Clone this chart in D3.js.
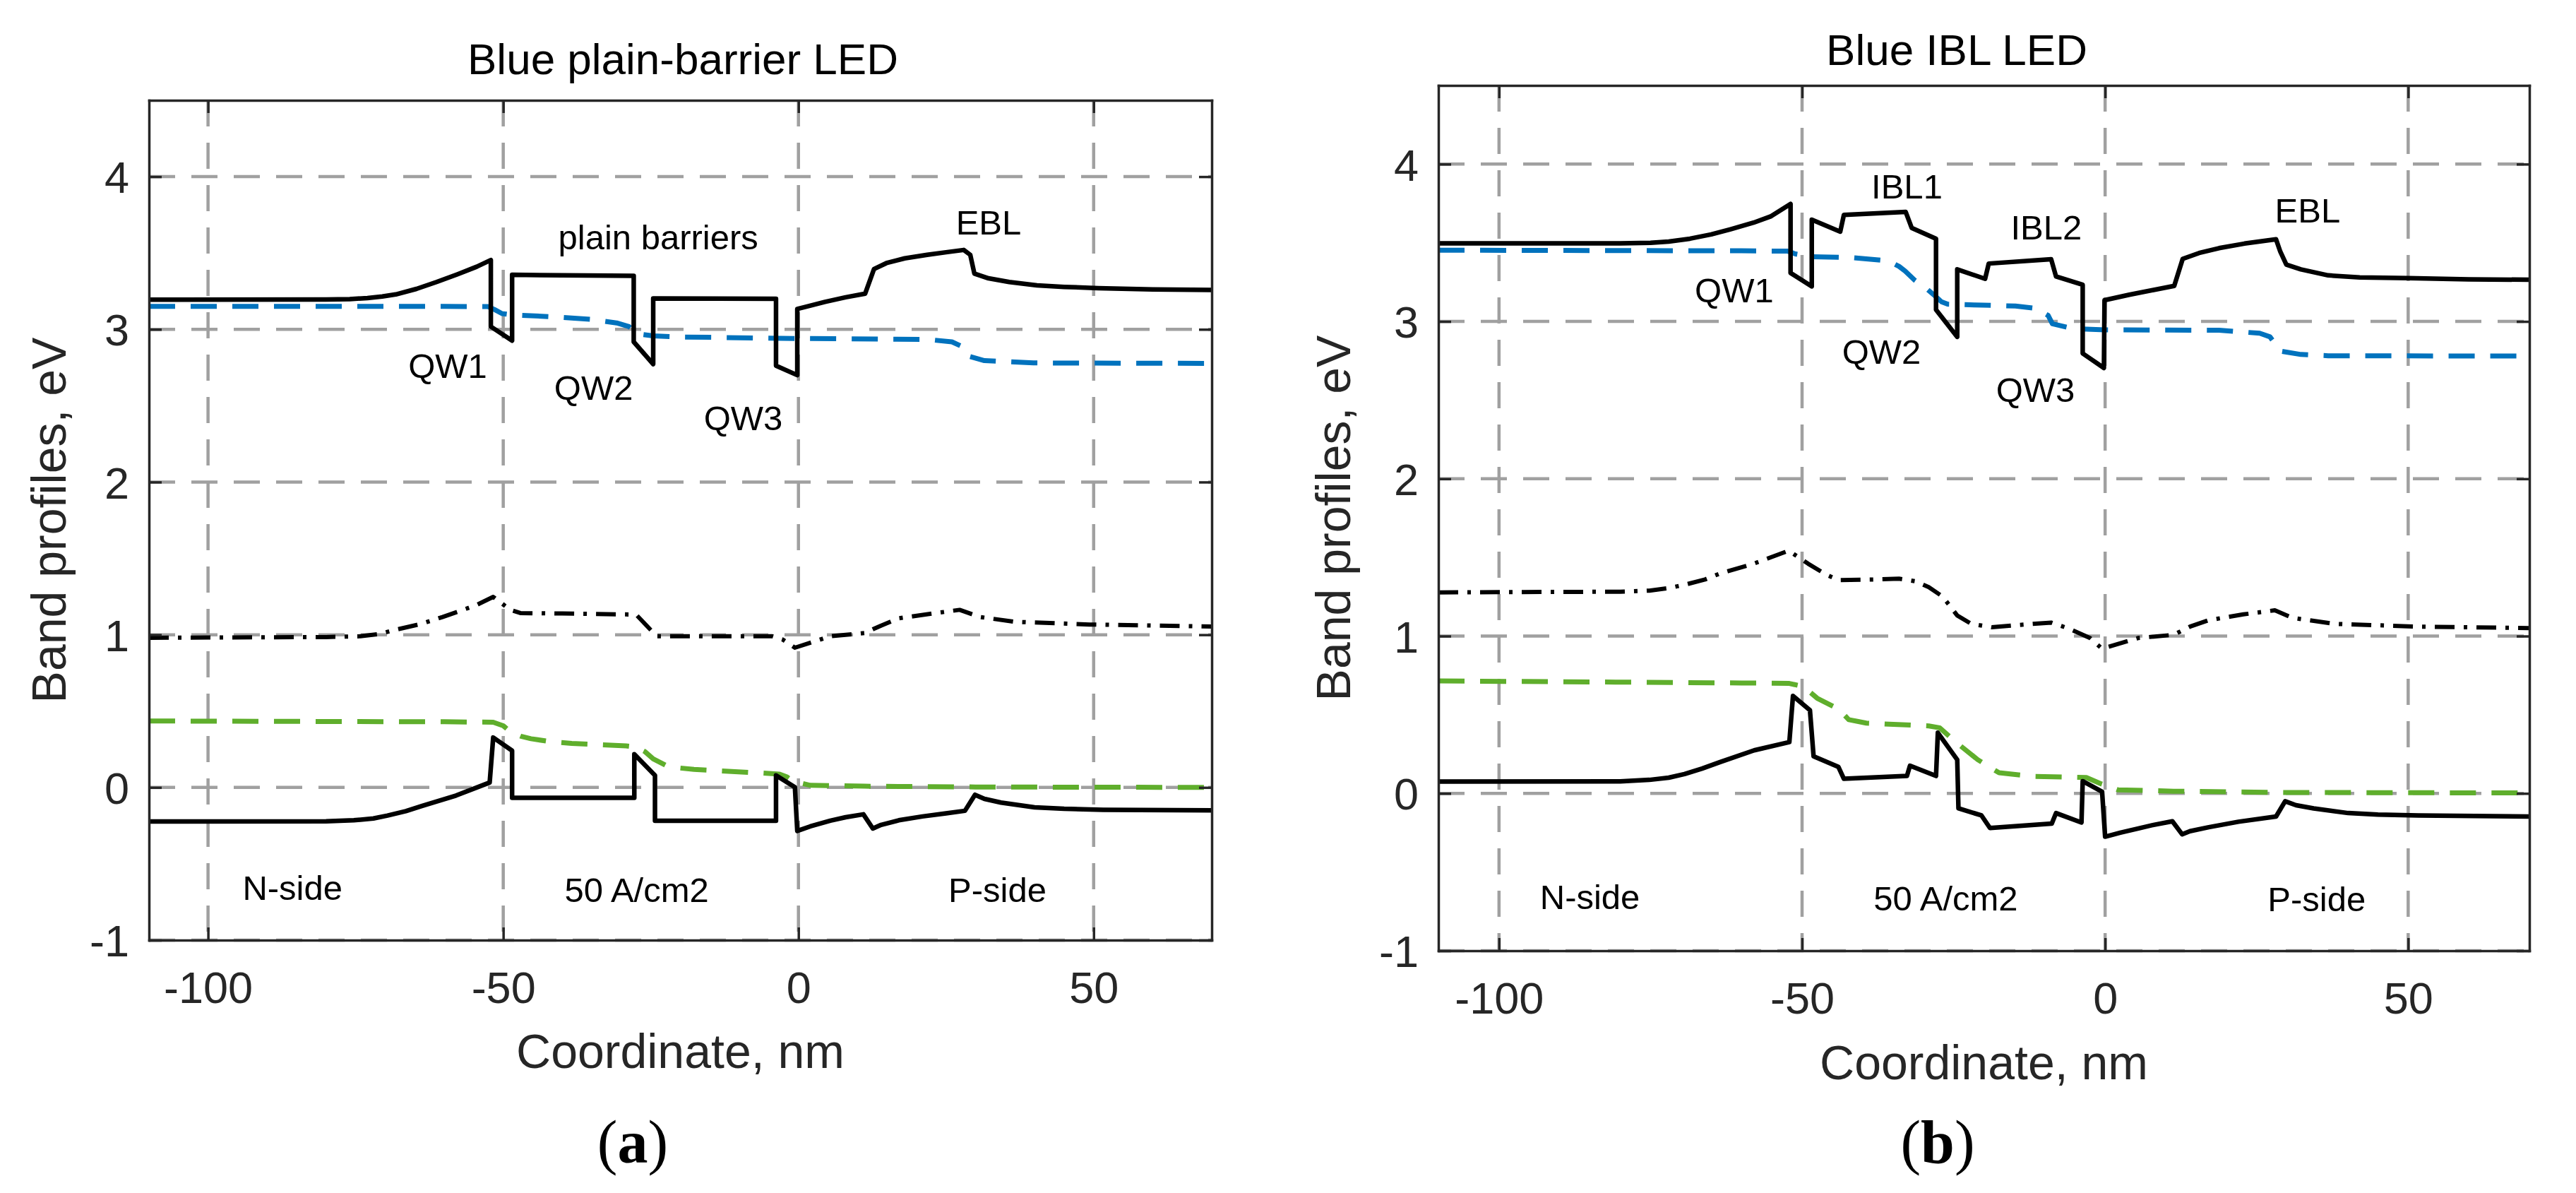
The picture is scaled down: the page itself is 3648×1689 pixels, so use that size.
<!DOCTYPE html>
<html><head><meta charset="utf-8">
<script src="https://cdn.jsdelivr.net/npm/d3@7"></script>
<style>body{margin:0;background:#fff}</style>
</head><body><svg id="c" width="3648" height="1689" xmlns="http://www.w3.org/2000/svg"></svg>
<script>
// ---------------- data ----------------
const xTicks = [-100, -50, 0, 50];
const yTicks = [-1, 0, 1, 2, 3, 4];
const xDomain = [-110, 70];
const yDomain = [-1, 4.5];
const titles = ["Blue plain-barrier LED", "Blue IBL LED"];
const panelTags = ["a", "b"];
const xLabel = "Coordinate, nm";
const yLabel = "Band profiles, eV";

// Panel (a): plain-barrier LED
const aConduction = [[-110,3.194],[-80,3.195],[-76,3.198],[-73,3.205],[-70.5,3.215],[-68.2,3.229],[-64.7,3.265],[-61.3,3.31],[-57.8,3.36],[-54.5,3.41],[-52.1,3.454],
  [-52.1,3.018],[-48.5,2.926],[-48.5,3.357],[-27.9,3.35],[-27.9,2.918],[-24.6,2.772],[-24.6,3.203],[-3.8,3.2],[-3.8,2.762],[-0.2,2.70],[-0.2,3.134],
  [1,3.145],[4.5,3.18],[8,3.21],[11.3,3.234],[12.8,3.395],[14.9,3.434],[18,3.465],[21.8,3.488],[25,3.505],[28,3.52],[29.1,3.488],[29.8,3.365],
  [32.2,3.334],[35.7,3.31],[40.4,3.288],[45,3.278],[50.8,3.27],[60,3.262],[70,3.258]];
const aElectronFermi = [[-110,3.151],[-60,3.15],[-52.6,3.149],[-51.5,3.13],[-50.2,3.103],[-48.5,3.095],[-40.5,3.08],[-35,3.065],[-30.8,3.042],[-28.7,3.018],
  [-27.4,2.972],[-24.6,2.957],[-19.7,2.95],[0,2.94],[21.8,2.934],[26,2.918],[27.7,2.888],[28.7,2.826],[31.5,2.795],[39.8,2.78],[70,2.777]];
const aMidline = [[-110,0.98],[-80,0.985],[-74.2,0.99],[-71,1.005],[-68.4,1.031],[-64,1.07],[-60.3,1.116],[-54.6,1.193],[-51.7,1.248],[-48.8,1.163],[-47.1,1.142],
  [-40,1.139],[-27.5,1.132],[-24,0.99],[-4.4,0.99],[-2.7,0.969],[-0.6,0.915],[5.4,0.99],[11.2,1.011],[14,1.06],[17,1.108],[22.7,1.139],[27.3,1.163],
  [30.8,1.116],[36.6,1.085],[49.3,1.067],[70,1.054]];
const aHoleFermi = [[-110,0.435],[-60,0.43],[-51.7,0.427],[-50,0.404],[-48.8,0.365],[-47,0.335],[-45.3,0.319],[-42,0.3],[-38.4,0.288],[-29.2,0.272],[-27.5,0.265],
  [-26,0.235],[-24.6,0.187],[-22.3,0.141],[-20,0.127],[-17.7,0.118],[-6.1,0.094],[-3.2,0.087],[-2,0.07],[-0.9,0.04],[2,0.014],[11.2,0.008],[30,0.003],[70,0.0]];
const aValence = [[-110,-0.223],[-80,-0.222],[-75.3,-0.215],[-72,-0.203],[-69.6,-0.184],[-66.5,-0.155],[-63.8,-0.122],[-58,-0.053],[-52.3,0.032],
  [-51.7,0.327],[-48.5,0.241],[-48.5,-0.068],[-27.8,-0.068],[-27.8,0.218],[-24.3,0.079],[-24.3,-0.218],[-3.8,-0.218],[-3.8,0.079],[-0.6,0.0015],[-0.2,-0.285],
  [2,-0.255],[5.4,-0.218],[8,-0.195],[11,-0.176],[12.6,-0.269],[14,-0.245],[17,-0.215],[21,-0.19],[25,-0.17],[28.2,-0.153],[29.9,-0.048],[31.5,-0.075],
  [34.3,-0.099],[40,-0.13],[45,-0.14],[51.6,-0.146],[70,-0.15]];
const aLabels = [["plain barriers",-23.75,3.526],["EBL",32.2,3.623],["QW1",-59.4,2.68],["QW2",-34.7,2.537],["QW3",-9.35,2.342],
  ["N-side",-85.7,-0.738],["50 A/cm2",-27.4,-0.75],["P-side",33.7,-0.75]];

// Panel (b): IBL LED
const bConduction = [[-110,3.496],[-80,3.497],[-75,3.50],[-72,3.508],[-68.5,3.526],[-65,3.553],[-61.8,3.586],[-58,3.628],[-55.1,3.669],[-51.9,3.747],
  [-51.9,3.308],[-48.4,3.223],[-48.4,3.647],[-43.7,3.571],[-43.1,3.677],[-32.9,3.696],[-31.9,3.594],[-27.9,3.526],[-27.9,3.075],[-24.4,2.902],[-24.4,3.331],
  [-19.8,3.271],[-19.2,3.368],[-8.9,3.395],[-8.1,3.286],[-3.7,3.233],[-3.7,2.797],[-0.2,2.704],[-0.1,3.135],[4,3.17],[8,3.2],[11.4,3.226],[12.8,3.398],
  [15.5,3.435],[18.8,3.466],[23,3.495],[28.2,3.522],[28.9,3.444],[29.9,3.361],[32.3,3.331],[36.8,3.293],[42,3.28],[50,3.275],[60,3.268],[70,3.265]];
const bElectronFermi = [[-110,3.453],[-60,3.449],[-52.4,3.447],[-51.1,3.429],[-48.4,3.411],[-41.7,3.406],[-37,3.39],[-35,3.37],[-34,3.35],[-33,3.32],
  [-31.5,3.265],[-29.5,3.21],[-28,3.16],[-27,3.125],[-26,3.11],[-21.5,3.105],[-14.8,3.098],[-11.4,3.083],[-9.4,3.038],[-8.7,2.985],[-5.4,2.955],[0,2.947],
  [18.8,2.944],[25.5,2.925],[27.2,2.902],[28.9,2.812],[32.3,2.79],[36.8,2.782],[70,2.78]];
const bMidline = [[-110,1.278],[-80,1.282],[-75.2,1.289],[-72,1.305],[-69.4,1.326],[-66,1.36],[-63.6,1.397],[-58,1.46],[-52.2,1.543],[-49,1.46],[-46,1.39],
  [-44,1.356],[-38,1.36],[-34,1.365],[-31.4,1.349],[-29.1,1.311],[-26.8,1.251],[-24.4,1.131],[-22.1,1.078],[-18.7,1.056],[-14.1,1.071],[-8.9,1.086],[-6,1.048],
  [-2.5,0.988],[-0.5,0.92],[5.5,0.988],[11.3,1.008],[14,1.06],[17.1,1.101],[22.8,1.138],[28,1.164],[30.9,1.116],[37.8,1.078],[51.7,1.06],[70,1.051]];
const bHoleFermi = [[-110,0.715],[-60,0.702],[-52.1,0.699],[-49.8,0.68],[-47.5,0.605],[-44,0.537],[-42.3,0.469],[-39.4,0.447],[-29.1,0.429],[-27.3,0.417],
  [-24.4,0.319],[-21,0.214],[-17.5,0.131],[-11.8,0.108],[-3.1,0.101],[-0.8,0.063],[2.1,0.023],[11.3,0.014],[30,0.006],[70,0.003]];
const bValence = [[-110,0.075],[-80,0.076],[-75.2,0.086],[-72,0.1],[-69.4,0.123],[-66.5,0.158],[-63.6,0.198],[-57.9,0.274],[-52.1,0.326],[-51.5,0.62],
  [-48.7,0.529],[-48.1,0.236],[-44,0.168],[-43.1,0.093],[-32.7,0.111],[-32.2,0.176],[-27.9,0.111],[-27.6,0.386],[-24.4,0.214],[-24.2,-0.095],[-20.4,-0.14],
  [-19,-0.22],[-8.8,-0.192],[-8.1,-0.125],[-3.9,-0.185],[-3.7,0.078],[-0.5,0.011],[0,-0.275],[2.5,-0.25],[5.5,-0.223],[8,-0.2],[11.1,-0.177],[12.7,-0.26],
  [14,-0.24],[17.1,-0.215],[22,-0.18],[28.2,-0.147],[29.7,-0.05],[31.5,-0.075],[34.4,-0.095],[40.1,-0.125],[45,-0.135],[51.7,-0.14],[70,-0.147]];
const bLabels = [["IBL1",-32.7,3.78],["IBL2",-9.7,3.519],["EBL",33.4,3.63],["QW1",-61.2,3.12],["QW2",-36.9,2.729],["QW3",-11.5,2.489],
  ["N-side",-85,-0.733],["50 A/cm2",-26.3,-0.745],["P-side",34.9,-0.75]];

// ---------------- layout & styles ----------------
const panels = [
  {title: titles[0], tag: panelTags[0], left: 211, right: 1716, top: 142, bottom: 1331, titleX: 967, titleY: 105, yLabX: 93, tagX: 896, xLabY: 1512,
   curves: [aMidline, aHoleFermi, aElectronFermi, aValence, aConduction], labels: aLabels},
  {title: titles[1], tag: panelTags[1], left: 2037, right: 3582, top: 121, bottom: 1346, titleX: 2771, titleY: 92, yLabX: 1912, tagX: 2744, xLabY: 1528,
   curves: [bMidline, bHoleFermi, bElectronFermi, bValence, bConduction], labels: bLabels}
];
const curveStyles = [
  {color: "#000000", dash: "28,13,5,13", width: 6},
  {color: "#5fae2c", dash: "37,22", width: 7},
  {color: "#0072BD", dash: "37,22", width: 7},
  {color: "#000000", dash: null, width: 6.5},
  {color: "#000000", dash: null, width: 6.5}
];
const axisColor = "#262626";
const gridColor = "#a0a0a0";
const sans = "'Liberation Sans', Arial, Helvetica, sans-serif";
const tickFmt = d => String(d);   // plain hyphen-minus, as in the original

const svg = d3.select("#c");
svg.append("rect").attr("width", 3648).attr("height", 1689).attr("fill", "#fff");

panels.forEach(p => {
  const x = d3.scaleLinear().domain(xDomain).range([p.left, p.right]);
  const y = d3.scaleLinear().domain(yDomain).range([p.bottom, p.top]);
  const g = svg.append("g");

  // grid
  const grid = g.append("g").attr("stroke", gridColor).attr("stroke-width", 4.5).attr("stroke-dasharray", "37,23").attr("fill", "none");
  xTicks.forEach(t => grid.append("line").attr("x1", x(t)).attr("x2", x(t)).attr("y1", p.top).attr("y2", p.bottom));
  yTicks.forEach(t => grid.append("line").attr("x1", p.left).attr("x2", p.right).attr("y1", y(t)).attr("y2", y(t)));

  // curves
  const line = d3.line().x(d => x(d[0])).y(d => y(d[1]));
  p.curves.forEach((data, i) => {
    const s = curveStyles[i];
    g.append("path").attr("d", line(data)).attr("fill", "none")
      .attr("stroke", s.color).attr("stroke-width", s.width)
      .attr("stroke-dasharray", s.dash).attr("stroke-linejoin", "round");
  });

  // axes (frame + inward ticks on all sides)
  const tl = 18;
  const axB = d3.axisBottom(x).tickValues(xTicks).tickSizeInner(-tl).tickSizeOuter(0).tickFormat(tickFmt);
  const axT = d3.axisTop(x).tickValues(xTicks).tickSizeInner(-tl).tickSizeOuter(0).tickFormat("");
  const axL = d3.axisLeft(y).tickValues(yTicks).tickSizeInner(-tl).tickSizeOuter(0).tickFormat(tickFmt);
  const axR = d3.axisRight(y).tickValues(yTicks).tickSizeInner(-tl).tickSizeOuter(0).tickFormat("");
  const styleAxis = (sel) => {
    sel.selectAll("path,line").attr("stroke", axisColor).attr("stroke-width", 3.5);
    sel.selectAll("text").attr("fill", axisColor).attr("font-family", sans).attr("font-size", 63);
  };
  const gb = g.append("g").attr("transform", `translate(0,${p.bottom})`).call(axB); styleAxis(gb);
  gb.selectAll("text").attr("y", 89).attr("dy", 0);
  const gt = g.append("g").attr("transform", `translate(0,${p.top})`).call(axT); styleAxis(gt);
  const gl = g.append("g").attr("transform", `translate(${p.left},0)`).call(axL); styleAxis(gl);
  gl.selectAll("text").attr("x", -28).attr("dy", "0.36em");
  const gr = g.append("g").attr("transform", `translate(${p.right},0)`).call(axR); styleAxis(gr);
  g.selectAll(".domain").attr("stroke-linecap", "square");

  // title
  g.append("text").attr("x", p.titleX).attr("y", p.titleY).attr("text-anchor", "middle")
    .attr("font-family", sans).attr("font-size", 62).attr("fill", "#000").text(p.title);
  // axis labels
  g.append("text").attr("x", (p.left + p.right) / 2).attr("y", p.xLabY).attr("text-anchor", "middle")
    .attr("font-family", sans).attr("font-size", 68).attr("fill", axisColor).text(xLabel);
  g.append("text").attr("transform", `translate(${p.yLabX},${(p.top + p.bottom) / 2}) rotate(-90)`).attr("text-anchor", "middle")
    .attr("font-family", sans).attr("font-size", 68).attr("fill", axisColor).text(yLabel);
  // annotations
  p.labels.forEach(l => {
    g.append("text").attr("x", x(l[1])).attr("y", y(l[2])).attr("text-anchor", "middle")
      .attr("font-family", sans).attr("font-size", 49).attr("fill", "#000").text(l[0]);
  });
  // panel tag
  const t = g.append("text").attr("x", p.tagX).attr("y", 1646).attr("text-anchor", "middle")
    .attr("font-family", "'Liberation Serif', 'Times New Roman', serif").attr("font-size", 86).attr("fill", "#000");
  t.append("tspan").text("(");
  t.append("tspan").attr("font-weight", "bold").text(p.tag);
  t.append("tspan").text(")");
});
</script>
</body></html>
